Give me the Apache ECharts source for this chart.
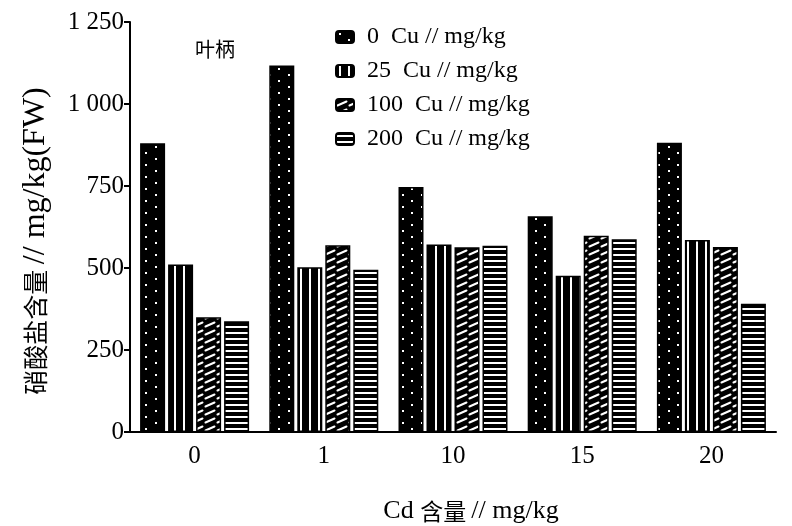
<!DOCTYPE html>
<html>
<head>
<meta charset="utf-8">
<script src="https://cdn.jsdelivr.net/npm/echarts@6/dist/echarts.min.js"></script>
<style>
    html, body { margin: 0; padding: 0; background: #fff; }
    #chart { width: 792px; height: 526px; }
</style>
</head>
<body>
<div id="chart"></div>
<script>
const cdLevels = ['0', '1', '10', '15', '20'];
const seriesNames = ['0  Cu // mg/kg', '25  Cu // mg/kg', '100  Cu // mg/kg', '200  Cu // mg/kg'];
const cu0 = [880, 1117, 747, 658, 882];
const cu25 = [511, 502, 572, 476, 585];
const cu100 = [350, 569, 563, 598, 564];
const cu200 = [338, 495, 568, 588, 391];
const yTicks = [0, 250, 500, 750, 1000, 1250];

const serif = '"Liberation Serif", "Noto Sans CJK SC", serif';
const cjk = '"Noto Sans CJK SC", sans-serif';

// black tiles with white marks, one per series
const makeTile = (w, h, draw) => {
    const c = document.createElement('canvas');
    c.width = w;
    c.height = h;
    const ctx = c.getContext('2d');
    ctx.fillStyle = '#000';
    ctx.fillRect(0, 0, w, h);
    ctx.fillStyle = '#fff';
    ctx.strokeStyle = '#fff';
    draw(ctx);
    return { image: c, repeat: 'repeat' };
};
const dotTile = makeTile(19, 12, (ctx) => {
    ctx.fillRect(3, 2, 2, 2);
    ctx.fillRect(12, 8, 2, 2);
});
const vlineTile = makeTile(9, 4, (ctx) => {
    ctx.fillRect(3, 0, 2, 4);
});
const diagTile = makeTile(12, 8, (ctx) => {
    ctx.lineWidth = 2;
    ctx.lineCap = 'round';
    ctx.beginPath();
    ctx.moveTo(1.5, 6.5);
    ctx.lineTo(10.5, 2.5);
    ctx.stroke();
});
const hlineTile = makeTile(4, 6, (ctx) => {
    ctx.fillRect(0, 2, 4, 2);
});

const myChart = echarts.init(document.getElementById('chart'));
const barSeries = (name, data, tile) => ({
    name: name,
    type: 'bar',
    data: data,
    barWidth: 25,
    barGap: '12%',
    itemStyle: {
        color: tile,
        borderColor: '#000',
        borderWidth: 1.5
    }
});

let option = {
    backgroundColor: '#fff',
    animation: false,
    title: {
        text: '叶柄',
        left: 190,
        top: 34,
        textStyle: { fontFamily: cjk, fontSize: 20, fontWeight: 'normal', color: '#000' }
    },
    legend: {
        orient: 'vertical',
        left: 330,
        top: 20,
        itemWidth: 18,
        itemHeight: 12,
        itemGap: 10,
        data: seriesNames,
        textStyle: { fontFamily: serif, fontSize: 24, color: '#000', padding: [0, 0, 0, 8] }
    },
    grid: {
        left: 130,
        right: 16,
        top: 22,
        bottom: 94,
        outerBoundsMode: 'none'
    },
    xAxis: {
        type: 'category',
        data: cdLevels,
        name: '{b|Cd }{a|含量 }{b|// mg/kg}',
        nameLocation: 'middle',
        nameGap: 66,
        nameTextStyle: {
            color: '#000',
            padding: [0, 0, 0, 36],
            rich: {
                a: { fontFamily: cjk, fontSize: 23, color: '#000' },
                b: { fontFamily: serif, fontSize: 26, color: '#000' }
            }
        },
        axisLine: { lineStyle: { color: '#000', width: 2 } },
        axisTick: { alignWithLabel: true, length: 6, lineStyle: { color: '#000', width: 2 } },
        axisLabel: { fontFamily: serif, fontSize: 25, color: '#000', margin: 12 }
    },
    yAxis: {
        type: 'value',
        min: yTicks[0],
        max: yTicks[yTicks.length - 1],
        interval: 250,
        name: '{a|硝酸盐含量 }{b|// mg/kg(FW)}',
        nameLocation: 'middle',
        nameGap: 78,
        nameTextStyle: {
            color: '#000',
            padding: [0, 0, 0, -28],
            rich: {
                a: { fontFamily: cjk, fontSize: 25, color: '#000' },
                b: { fontFamily: serif, fontSize: 32, color: '#000' }
            }
        },
        axisLine: { show: true, lineStyle: { color: '#000', width: 2 } },
        axisTick: { show: true, length: 6, lineStyle: { color: '#000', width: 2 } },
        splitLine: { show: false },
        axisLabel: {
            fontFamily: serif,
            fontSize: 25,
            color: '#000',
            margin: 6,
            formatter: (v) => v >= 1000 ? String(v).replace(/(\d)(\d{3})$/, '$1 $2') : String(v)
        }
    },
    series: [
        barSeries(seriesNames[0], cu0, dotTile),
        barSeries(seriesNames[1], cu25, vlineTile),
        barSeries(seriesNames[2], cu100, diagTile),
        barSeries(seriesNames[3], cu200, hlineTile)
    ]
};
myChart.setOption(option);
</script>
</body>
</html>
